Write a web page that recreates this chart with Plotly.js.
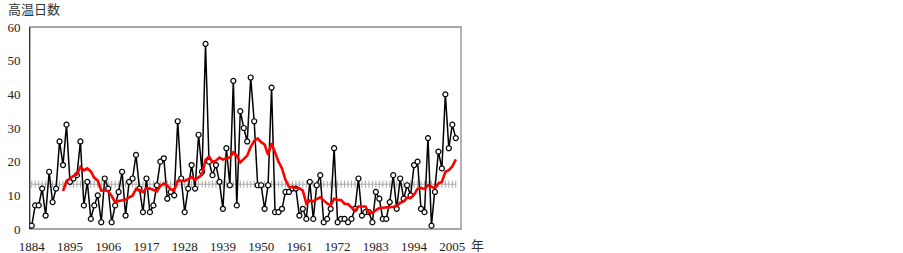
<!DOCTYPE html>
<html>
<head>
<meta charset="utf-8">
<script src="https://cdn.plot.ly/plotly-3.0.1.min.js"></script>
<style>html,body{margin:0;padding:0;background:#fff;}#chart{width:903px;height:253px;}</style>
</head>
<body>
<div id="chart"></div>
<script>
// Years 1884–2006
const years = [];
for (let y = 1884; y <= 2006; y++) years.push(y);

// Number of hot days per year
const hotDays = [
  1, 7, 7, 12, 4, 17, 8, 12, 26, 19,          // 1884-1893
  31, 14, 15, 16, 26, 7, 14, 3, 7, 10,        // 1894-1903
  2, 15, 12, 2, 7, 11, 17, 4, 14, 15,         // 1904-1913
  22, 12, 5, 15, 5, 7, 13, 20, 21, 9,         // 1914-1923
  11, 10, 32, 15, 5, 12, 19, 12, 28, 17,      // 1924-1933
  55, 20, 16, 19, 14, 6, 24, 13, 44, 7,       // 1934-1943
  35, 30, 26, 45, 32, 13, 13, 6, 13, 42,      // 1944-1953
  5, 5, 6, 11, 11, 12, 12, 4, 6, 3,           // 1954-1963
  14, 3, 13, 16, 2, 3, 6, 24, 2, 3,           // 1964-1973
  3, 2, 3, 6, 15, 4, 5, 5, 2, 11,             // 1974-1983
  9, 3, 3, 8, 16, 6, 15, 9, 13, 10,           // 1984-1993
  19, 20, 6, 5, 27, 1, 11, 23, 18, 40,        // 1994-2003
  24, 31, 27                                  // 2004-2006
];

// 10-year running mean (red line), 1893–2006
const avgYears = [];
for (let y = 1893; y <= 2006; y++) avgYears.push(y);
const avg10 = [
  11.3, 14.3, 15.0, 15.8, 16.2, 18.4, 17.4, 18.0, 17.1, 15.2,   // 1893-1902
  14.3, 11.4, 11.5, 11.2, 9.8, 7.9, 8.3, 8.6, 8.7, 9.4,          // 1903-1912
  9.9, 11.9, 11.6, 10.9, 12.2, 12.0, 11.6, 11.2, 12.8, 13.5,     // 1913-1922
  12.9, 11.8, 11.6, 14.3, 14.3, 14.3, 14.8, 15.4, 14.6, 15.3,    // 1923-1932
  16.1, 20.5, 21.5, 19.9, 20.3, 21.2, 20.6, 21.1, 21.2, 22.8,    // 1933-1942
  21.8, 19.8, 20.8, 21.8, 24.4, 26.2, 26.9, 25.8, 25.1, 22.0,    // 1943-1952
  25.5, 22.5, 20.0, 18.0, 14.6, 12.5, 12.4, 12.3, 12.1, 11.4,    // 1953-1962
  7.5, 8.4, 8.2, 8.9, 9.4, 8.5, 7.6, 7.0, 9.0, 8.6,              // 1963-1972
  8.6, 7.5, 7.4, 6.4, 5.4, 6.7, 6.8, 6.7, 4.8, 4.8,              // 1973-1982
  5.6, 6.2, 6.3, 6.3, 6.5, 6.6, 6.8, 7.8, 8.2, 9.3,              // 1983-1992
  9.2, 10.2, 11.9, 12.2, 11.9, 13.0, 12.5, 12.1, 13.5, 14.0,     // 1993-2002
  17.0, 17.5, 18.6, 20.7                                         // 2003-2006
];

// Long-term mean (gray reference line)
const meanValue = [13.3];

// Axis tick labels
const xTickVals = [1884, 1895, 1906, 1917, 1928, 1939, 1950, 1961, 1972, 1983, 1994, 2005];
const xTickText = xTickVals.map(String);
const yTickVals = [0, 10, 20, 30, 40, 50, 60];

const serif = 'Liberation Serif, DejaVu Serif, serif';
const cjk = 'Noto Sans CJK JP, Noto Sans CJK SC, sans-serif';

const traces = [
  {
    x: years,
    y: years.map(() => meanValue[0]),
    type: 'scatter',
    mode: 'lines+markers',
    line: {color: '#a8a8a8', width: 1},
    marker: {symbol: 'line-ns-open', size: 5, line: {color: '#cccccc', width: 1}},
    hoverinfo: 'skip',
    showlegend: false
  },
  {
    x: years,
    y: hotDays,
    type: 'scatter',
    mode: 'lines+markers',
    line: {color: '#000000', width: 1.5},
    marker: {symbol: 'circle', size: 5, color: '#ffffff', line: {color: '#000000', width: 1.2}},
    showlegend: false
  },
  {
    x: avgYears,
    y: avg10,
    type: 'scatter',
    mode: 'lines',
    line: {color: '#ff0000', width: 2.6},
    showlegend: false
  }
];

const layout = {
  width: 903,
  height: 253,
  margin: {l: 30, r: 442, t: 27, b: 24, pad: 0},
  paper_bgcolor: '#ffffff',
  plot_bgcolor: '#ffffff',
  showlegend: false,
  xaxis: {
    range: [1883.5, 2007.5],
    tickmode: 'array',
    tickvals: xTickVals,
    ticktext: xTickText,
    showgrid: false,
    zeroline: false,
    showline: false,
    ticks: 'outside',
    ticklen: 5,
    tickcolor: 'rgba(0,0,0,0)',
    tickfont: {family: serif, size: 13, color: '#222'},
    fixedrange: true
  },
  yaxis: {
    range: [0, 60],
    tickmode: 'array',
    tickvals: yTickVals,
    showgrid: false,
    zeroline: false,
    showline: true,
    linecolor: '#333',
    linewidth: 1,
    ticks: 'outside',
    ticklen: 6,
    tickcolor: 'rgba(0,0,0,0)',
    tickfont: {family: serif, size: 13, color: '#222'},
    fixedrange: true
  },
  shapes: [
    {type: 'rect', xref: 'paper', yref: 'paper', x0: 0, x1: 1, y0: 0, y1: 1,
     line: {color: '#8c8c8c', width: 1.3}, layer: 'below'}
  ],
  annotations: [
    {text: '高温日数', xref: 'paper', yref: 'paper', x: -0.055, y: 1.09,
     xanchor: 'left', yanchor: 'middle', showarrow: false,
     font: {family: cjk, size: 13, color: '#333'}},
    {text: '年', xref: 'paper', yref: 'paper', x: 1.039, y: -0.075,
     xanchor: 'center', yanchor: 'middle', showarrow: false,
     font: {family: cjk, size: 13, color: '#333'}}
  ]
};

Plotly.newPlot('chart', traces, layout, {displayModeBar: false, staticPlot: true});
</script>
</body>
</html>
